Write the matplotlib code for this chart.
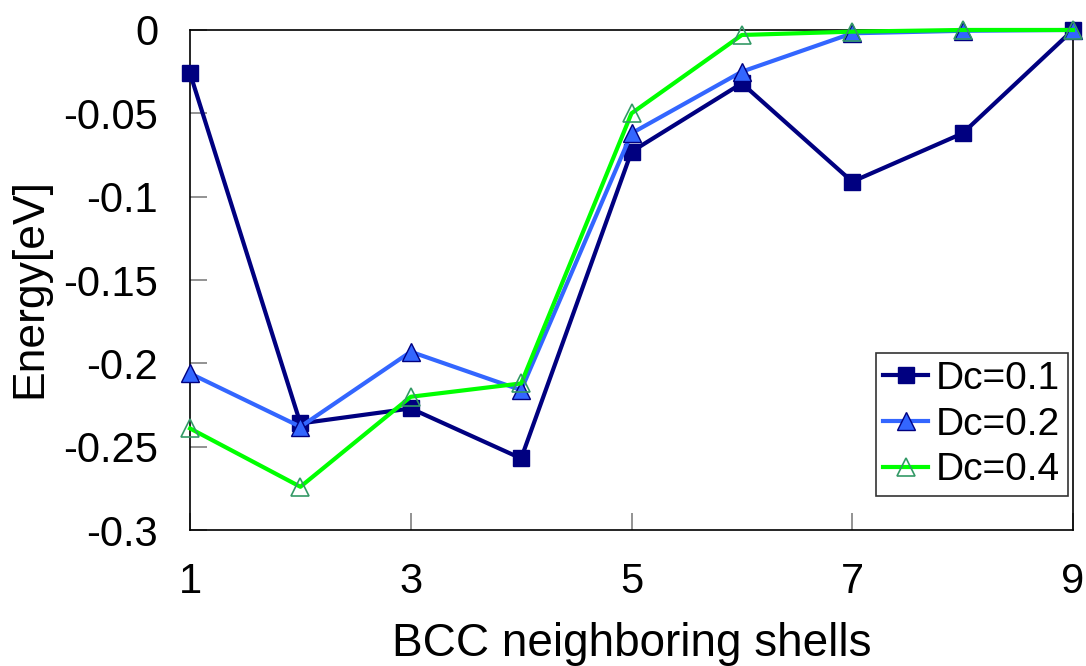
import numpy as np
import matplotlib.pyplot as plt

plt.rcParams['font.family'] = ['Liberation Sans', 'DejaVu Sans']

shells = [1, 2, 3, 4, 5, 6, 7, 8, 9]
dc01 = [-0.026, -0.236, -0.227, -0.257, -0.073, -0.032, -0.091, -0.062, 0.0]
dc02 = [-0.206, -0.238, -0.193, -0.216, -0.062, -0.025, -0.002, -0.0005, 0.0]
dc04 = [-0.239, -0.274, -0.220, -0.212, -0.050, -0.003, -0.001, 0.0, 0.0]

fig = plt.figure(figsize=(10.86, 6.66), dpi=100)
ax = fig.add_axes([0.175, 0.204, 0.813, 0.751])

ax.plot(shells, dc01, color='#000080', lw=3, marker='s', ms=11,
        mfc='#000080', mec='#000080', label='Dc=0.1', zorder=3, clip_on=False)
ax.plot(shells, dc02, color='#3366FF', lw=3, marker='^', ms=13,
        mfc='#3366FF', mec='#000080', mew=1, label='Dc=0.2', zorder=4, clip_on=False)
ax.plot(shells, dc04, color='#00FF00', lw=3, marker='^', ms=13,
        mfc='none', mec='#339966', mew=1.2, label='Dc=0.4', zorder=5, clip_on=False)

ax.set_xlim(1, 9)
ax.set_ylim(-0.3, 0)
ax.set_xticks([1, 3, 5, 7, 9])
ax.set_yticks([-0.3, -0.25, -0.2, -0.15, -0.1, -0.05, 0])
ax.set_yticklabels(['-0.3', '-0.25', '-0.2', '-0.15', '-0.1', '-0.05', '0'])
ax.tick_params(direction='in', length=12, width=1.2, color='#808080',
               labelsize=30)
ax.tick_params(axis='y', pad=23)
ax.tick_params(axis='x', pad=23)
for sp in ax.spines.values():
    sp.set_linewidth(1.2)
    sp.set_color('black')

ax.set_xlabel('BCC neighboring shells', fontsize=33, va='baseline')
ax.xaxis.set_label_coords(0.5, -0.252)
ax.set_ylabel('Energy[eV]', fontsize=32, va='center')
ax.yaxis.set_label_coords(-0.181, 0.484)

leg = ax.legend(loc='lower right', bbox_to_anchor=(0.9943, 0.068), fontsize=28,
                frameon=True, fancybox=False, edgecolor='black',
                handlelength=1.15, handletextpad=0.2, borderpad=0.2,
                labelspacing=0.25, borderaxespad=0)
leg.get_frame().set_linewidth(1.2)

for lab in ax.get_xticklabels() + ax.get_yticklabels():
    lab.set_clip_on(False)

fig.savefig('out.png', dpi=100)
